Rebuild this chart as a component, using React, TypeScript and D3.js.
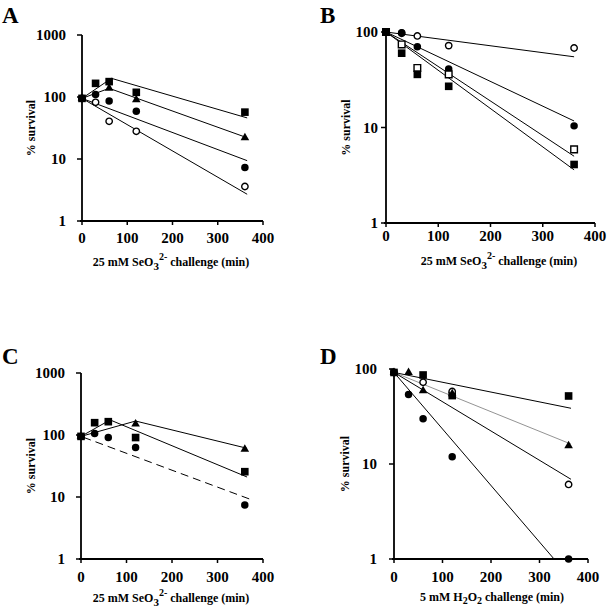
import React from 'react';
import * as d3 from 'd3';

// ---------- shared ----------
const timePoints = [0, 30, 60, 120, 360];
const xTickValues = [0, 100, 200, 300, 400];
const yTicksThreeDecades = [1, 10, 100, 1000];
const yTicksTwoDecades = [1, 10, 100];

// ---------- panel A (25 mM selenite) ----------
const aFilledSquare = [95, 166, 177, 119, 57];
const aFilledTriangle = [95, null, 138, 90, 22];
const aFilledCircle = [95, 110, 86, 59, 7.3];
const aOpenCircle = [95, 82, 40.5, 28, 3.6];
const aFitSquareX = [0, 65, 365];
const aFitSquareY = [95, 200, 46];
const aFitTriangleX = [0, 60, 365];
const aFitTriangleY = [95, 138, 22];
const aFitFilledCircleX = [0, 365];
const aFitFilledCircleY = [95, 9.4];
const aFitOpenCircleX = [0, 365];
const aFitOpenCircleY = [95, 2.7];

// ---------- panel B ----------
const bOpenCircle = [100, 97, 91, 72, 68];
const bFilledCircle = [100, 98, 70, 41, 10.4];
const bOpenSquare = [100, 74, 42, 36, 5.9];
const bFilledSquare = [100, 60, 36, 27, 4.1];
const bFitX = [0, 360];
const bFitOpenCircleY = [100, 55];
const bFitFilledCircleY = [100, 11.7];
const bFitOpenSquareY = [100, 5.0];
const bFitFilledSquareY = [100, 3.6];

// ---------- panel C ----------
const cFilledTriangle = [95, null, null, 150, 59];
const cFilledCircle = [95, 106, 91, 63, 7.4];
const cFilledSquare = [95, 158, 164, 91, 25.6];
const cFitTriangleX = [0, 120, 365];
const cFitTriangleY = [95, 168, 61];
const cFitSquareX = [0, 64, 365];
const cFitSquareY = [95, 175, 21];
const cFitDashedX = [5, 370];
const cFitDashedY = [92, 9.3];

// ---------- panel D (5 mM H2O2) ----------
const dOpenCircle = [92, null, 72.4, 58, 6.1];
const dFilledTriangle = [92, 92, 59, 55, 15.6];
const dFilledSquare = [92, null, 86.5, 52.5, 52];
const dFilledCircle = [92, 54, 30, 11.9, 1];
const dFitSquareX = [0, 365];
const dFitSquareY = [92, 38.6];
const dFitTriangleX = [0, 365];
const dFitTriangleY = [92, 16.2];
const dFitOpenCircleX = [0, 365];
const dFitOpenCircleY = [92, 6.9];
const dFitFilledCircleX = [0, 330];
const dFitFilledCircleY = [92, 1];

type Marker = 'square' | 'openSquare' | 'triangle' | 'circle' | 'openCircle';
type Series = { values: (number | null)[]; marker: Marker };
type Fit = { xs: number[]; ys: number[]; dashed?: boolean; color?: string; width?: number };

type PanelCfg = {
  letter: string;
  letterX: number;
  letterY: number;
  xLeft: number;
  xRight: number;
  yTop: number;
  yBottom: number;
  yMax: number;
  yTicks: number[];
  yLabelGap: number;
  xLabelY: number;
  yTitleX: number;
  titleX: number;
  titleY: number;
  title: 'se' | 'h2o2';
  series: Series[];
  fits: Fit[];
};

const FONT = '"Liberation Serif", "Times New Roman", Times, serif';

const panels: PanelCfg[] = [
  {
    letter: 'A', letterX: 2, letterY: 23,
    xLeft: 82, xRight: 263, yTop: 35, yBottom: 221, yMax: 1000,
    yTicks: yTicksThreeDecades, yLabelGap: 16, xLabelY: 243, yTitleX: 35,
    titleX: 171, titleY: 266, title: 'se',
    fits: [
      { xs: aFitSquareX, ys: aFitSquareY },
      { xs: aFitTriangleX, ys: aFitTriangleY },
      { xs: aFitFilledCircleX, ys: aFitFilledCircleY },
      { xs: aFitOpenCircleX, ys: aFitOpenCircleY },
    ],
    series: [
      { values: aOpenCircle, marker: 'openCircle' },
      { values: aFilledCircle, marker: 'circle' },
      { values: aFilledTriangle, marker: 'triangle' },
      { values: aFilledSquare, marker: 'square' },
    ],
  },
  {
    letter: 'B', letterX: 320, letterY: 23,
    xLeft: 386, xRight: 595, yTop: 32, yBottom: 223, yMax: 100,
    yTicks: yTicksTwoDecades, yLabelGap: 8, xLabelY: 241, yTitleX: 350,
    titleX: 499, titleY: 265, title: 'se',
    fits: [
      { xs: bFitX, ys: bFitOpenCircleY },
      { xs: bFitX, ys: bFitFilledCircleY },
      { xs: bFitX, ys: bFitOpenSquareY },
      { xs: bFitX, ys: bFitFilledSquareY },
    ],
    series: [
      { values: bOpenCircle, marker: 'openCircle' },
      { values: bFilledCircle, marker: 'circle' },
      { values: bOpenSquare, marker: 'openSquare' },
      { values: bFilledSquare, marker: 'square' },
    ],
  },
  {
    letter: 'C', letterX: 2, letterY: 364,
    xLeft: 81, xRight: 263, yTop: 373, yBottom: 559, yMax: 1000,
    yTicks: yTicksThreeDecades, yLabelGap: 16, xLabelY: 582, yTitleX: 35,
    titleX: 171, titleY: 602, title: 'se',
    fits: [
      { xs: cFitTriangleX, ys: cFitTriangleY },
      { xs: cFitSquareX, ys: cFitSquareY },
      { xs: cFitDashedX, ys: cFitDashedY, dashed: true },
    ],
    series: [
      { values: cFilledCircle, marker: 'circle' },
      { values: cFilledTriangle, marker: 'triangle' },
      { values: cFilledSquare, marker: 'square' },
    ],
  },
  {
    letter: 'D', letterX: 320, letterY: 364,
    xLeft: 394, xRight: 588, yTop: 369, yBottom: 559, yMax: 100,
    yTicks: yTicksTwoDecades, yLabelGap: 17, xLabelY: 582, yTitleX: 349,
    titleX: 492, titleY: 601, title: 'h2o2',
    fits: [
      { xs: dFitSquareX, ys: dFitSquareY },
      { xs: dFitTriangleX, ys: dFitTriangleY, color: '#777', width: 0.8 },
      { xs: dFitOpenCircleX, ys: dFitOpenCircleY },
      { xs: dFitFilledCircleX, ys: dFitFilledCircleY },
    ],
    series: [
      { values: dFilledSquare, marker: 'square' },
      { values: dOpenCircle, marker: 'openCircle' },
      { values: dFilledTriangle, marker: 'triangle' },
      { values: dFilledCircle, marker: 'circle' },
    ],
  },
];

const symbolPath = (m: Marker) => {
  if (m === 'square' || m === 'openSquare') return d3.symbol(d3.symbolSquare, m === 'square' ? 58 : 44)();
  if (m === 'triangle') return d3.symbol(d3.symbolTriangle, 32)();
  return d3.symbol(d3.symbolCircle, m === 'circle' ? 44 : 32)();
};

function Panel({ cfg }: { cfg: PanelCfg }) {
  const x = d3.scaleLinear().domain([0, 400]).range([cfg.xLeft, cfg.xRight]);
  const y = d3.scaleLog().domain([1, cfg.yMax]).range([cfg.yBottom, cfg.yTop]);
  const line = d3
    .line<[number, number]>()
    .x((d) => x(d[0]))
    .y((d) => y(d[1]));
  const midY = (cfg.yTop + cfg.yBottom) / 2;

  return (
    <g>
      <text x={cfg.letterX} y={cfg.letterY} fontFamily={FONT} fontWeight="bold" fontSize={23}>
        {cfg.letter}
      </text>
      {/* axes */}
      <line x1={cfg.xLeft} x2={cfg.xLeft} y1={cfg.yTop} y2={cfg.yBottom} stroke="#000" strokeWidth={1.8} />
      <line x1={cfg.xLeft - 2} x2={cfg.xRight} y1={cfg.yBottom} y2={cfg.yBottom} stroke="#000" strokeWidth={1.8} />
      {cfg.yTicks.map((t) => (
        <g key={'y' + t}>
          <line x1={cfg.xLeft - 5} x2={cfg.xLeft} y1={y(t)} y2={y(t)} stroke="#000" strokeWidth={1.5} />
          <text
            x={cfg.xLeft - cfg.yLabelGap}
            y={y(t)}
            dy="0.35em"
            textAnchor="end"
            fontFamily={FONT}
            fontWeight="bold"
            fontSize={15}
          >
            {t}
          </text>
        </g>
      ))}
      {xTickValues.map((t) => (
        <g key={'x' + t}>
          <line x1={x(t)} x2={x(t)} y1={cfg.yBottom} y2={cfg.yBottom + 4} stroke="#000" strokeWidth={1.5} />
          <text x={x(t)} y={cfg.xLabelY} textAnchor="middle" fontFamily={FONT} fontWeight="bold" fontSize={15}>
            {t}
          </text>
        </g>
      ))}
      <text
        transform={`translate(${cfg.yTitleX},${midY}) rotate(-90)`}
        textAnchor="middle"
        fontFamily={FONT}
        fontWeight="bold"
        fontSize={12}
      >
        % survival
      </text>
      {cfg.title === 'se' ? (
        <text x={cfg.titleX} y={cfg.titleY} textAnchor="middle" fontFamily={FONT} fontWeight="bold" fontSize={12}>
          25 mM SeO
          <tspan dy={4} fontSize={11}>3</tspan>
          <tspan dy={-10} fontSize={10}>2-</tspan>
          <tspan dy={6}> challenge (min)</tspan>
        </text>
      ) : (
        <text x={cfg.titleX} y={cfg.titleY} textAnchor="middle" fontFamily={FONT} fontWeight="bold" fontSize={12}>
          5 mM H
          <tspan dy={3} fontSize={10}>2</tspan>
          <tspan dy={-3}>O</tspan>
          <tspan dy={3} fontSize={10}>2</tspan>
          <tspan dy={-3}> challenge (min)</tspan>
        </text>
      )}
      {/* fitted lines */}
      {cfg.fits.map((f, i) => (
        <path
          key={'f' + i}
          d={line(f.xs.map((v, j) => [v, f.ys[j]] as [number, number])) || ''}
          fill="none"
          stroke={f.color || '#000'}
          strokeWidth={f.width || 1}
          strokeDasharray={f.dashed ? '8,5' : undefined}
        />
      ))}
      {/* markers */}
      {cfg.series.map((s, i) => (
        <g key={'s' + i}>
          {s.values.map((v, j) =>
            v == null ? null : (
              <path
                key={j}
                transform={`translate(${x(timePoints[j])},${y(v)})`}
                d={symbolPath(s.marker) || ''}
                fill={s.marker === 'openCircle' || s.marker === 'openSquare' ? '#fff' : '#000'}
                stroke="#000"
                strokeWidth={s.marker === 'openCircle' || s.marker === 'openSquare' ? 1.4 : 0}
              />
            )
          )}
        </g>
      ))}
    </g>
  );
}

export default function App() {
  return (
    <svg
      width={609}
      height={610}
      viewBox="0 0 609 610"
      style={{ position: 'absolute', left: 0, top: 0, background: '#fff' }}
    >
      <rect x={0} y={0} width={609} height={610} fill="#fff" />
      {panels.map((p) => (
        <Panel key={p.letter} cfg={p} />
      ))}
    </svg>
  );
}
